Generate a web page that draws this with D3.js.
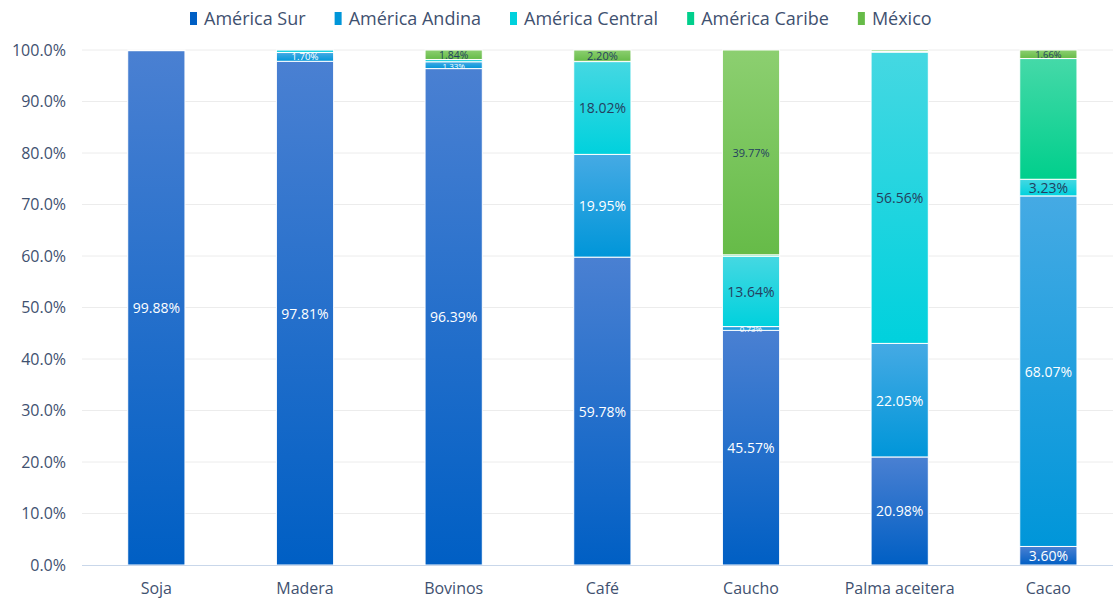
<!DOCTYPE html>
<html>
<head>
<meta charset="utf-8">
<script src="https://cdn.jsdelivr.net/npm/d3@7"></script>
<style>
  body { margin: 0; background: #fff; }
  text { font-family: "Open Sans", "Noto Sans", sans-serif; }
</style>
</head>
<body>
<div id="chart"></div>
<script>
// datos
let categorias = ['Soja', 'Madera', 'Bovinos', 'Café', 'Caucho', 'Palma aceitera', 'Cacao']
let series     = ['América Sur', 'América Andina', 'América Central', 'América Caribe', 'México']

let sur     = [99.88, 97.81, 96.39, 59.78, 45.57, 20.98,  3.60]
let andina  = [ 0.12,  1.70,  1.33, 19.95,  0.73, 22.05, 68.07]
let central = [ 0.00,  0.49,  0.44, 18.02, 13.64, 56.56,  3.23]
let caribe  = [ 0.00,  0.00,  0.00,  0.05,  0.29,  0.11, 23.44]
let mexico  = [ 0.00,  0.00,  1.84,  2.20, 39.77,  0.30,  1.66]

let yTicks = [0, 10, 20, 30, 40, 50, 60, 70, 80, 90, 100]

let colores = [
  ['#4a80d2', '#005fc4'],
  ['#45aae4', '#0096d9'],
  ['#45d8e2', '#00d1dd'],
  ['#45d9a8', '#00cf8c'],
  ['#8ccf70', '#66bb48']
]
let conEtiqueta = [true, true, true, false, true]
let colorTexto  = ['#ffffff', '#ffffff', '#243f60', '#243f60', '#243f60']

let w = 1113, h = 602
let margin = {top: 50, left: 82, bottom: 37}

let svg = d3.select('#chart').append('svg').attr('width', w).attr('height', h)

let defs = svg.append('defs')
colores.forEach((c, i) => {
  let gr = defs.append('linearGradient').attr('id', 'gr' + i)
    .attr('x1', 0).attr('y1', 0).attr('x2', 0).attr('y2', 1)
  gr.append('stop').attr('offset', '0%').attr('stop-color', c[0])
  gr.append('stop').attr('offset', '100%').attr('stop-color', c[1])
})

let table = categorias.map((c, i) => ({
  cat: c,
  'América Sur': sur[i],
  'América Andina': andina[i],
  'América Central': central[i],
  'América Caribe': caribe[i],
  'México': mexico[i]
}))

let x = d3.scaleBand().domain(categorias)
  .range([margin.left, margin.left + 7 * 148.67])
  .paddingInner(0.615).paddingOuter(0.3075)

let y = d3.scaleLinear().domain([0, 100]).range([h - margin.bottom, margin.top])

// grid
svg.append('g').selectAll('line').data(yTicks.slice(1)).join('line')
  .attr('x1', margin.left).attr('x2', w)
  .attr('y1', d => y(d)).attr('y2', d => y(d))
  .attr('stroke', '#ececec').attr('stroke-width', 1)

// eje y
let yAxis = svg.append('g').attr('transform', 'translate(' + margin.left + ',0)')
  .call(d3.axisLeft(y).tickValues(yTicks).tickFormat(d => d.toFixed(1) + '%').tickSize(0).tickPadding(16))
yAxis.select('.domain').remove()
yAxis.selectAll('text').attr('fill', '#3f5170').style('font-size', '16px')

let stack = d3.stack().keys(series)
let capas = stack(table)

let g = svg.append('g')
capas.forEach((capa, si) => {
  let grp = g.append('g')
  grp.selectAll('rect').data(capa).join('rect')
    .attr('x', d => x(d.data.cat))
    .attr('width', x.bandwidth())
    .attr('y', d => y(d[1]))
    .attr('height', d => Math.max(0, y(d[0]) - y(d[1])))
    .attr('fill', 'url(#gr' + si + ')')
    .attr('stroke', '#fff').attr('stroke-width', d => (d[1] - d[0]) > 0 ? 1 : 0)
})

// eje x
let xAxis = svg.append('g').attr('transform', 'translate(0,' + y(0) + ')')
  .call(d3.axisBottom(x).tickSize(0).tickPadding(18))
xAxis.select('.domain').attr('stroke', '#c9d7ea').attr('d', 'M' + margin.left + ',0.5H' + w)
xAxis.selectAll('text').attr('fill', '#3f5170').style('font-size', '16px')

// etiquetas
capas.forEach((capa, si) => {
  if (!conEtiqueta[si]) return
  let lab = capa.filter(d => (d[1] - d[0]) >= 0.5)
  g.append('g').selectAll('text').data(lab).join('text')
    .attr('x', d => x(d.data.cat) + x.bandwidth() / 2)
    .attr('y', d => (y(d[0]) + y(d[1])) / 2)
    .attr('text-anchor', 'middle')
    .attr('dominant-baseline', 'central')
    .attr('fill', colorTexto[si])
    .style('font-size', d => {
      let hh = y(d[0]) - y(d[1])
      let fs = si == 4 ? 11 : 14
      return Math.max(8, Math.min(fs, hh * 1.1)) + 'px'
    })
    .text(d => (d[1] - d[0]).toFixed(2) + '%')
})

// leyenda
let leg = svg.append('g').attr('transform', 'translate(0,19)')
let items = leg.selectAll('g').data(series).join('g')
items.append('rect').attr('y', -7).attr('width', 7).attr('height', 13)
  .attr('fill', (d, i) => colores[i][1])
items.append('text').attr('x', 14).attr('dy', '0.35em')
  .attr('fill', '#3f5170').style('font-size', '18px').text(d => d)
let pos = 0, xs = []
items.each(function () {
  xs.push(pos)
  pos += 14 + d3.select(this).select('text').node().getComputedTextLength() + 29
})
let x0 = 190
items.attr('transform', (d, i) => 'translate(' + (x0 + xs[i]) + ',0)')
</script>
</body>
</html>
